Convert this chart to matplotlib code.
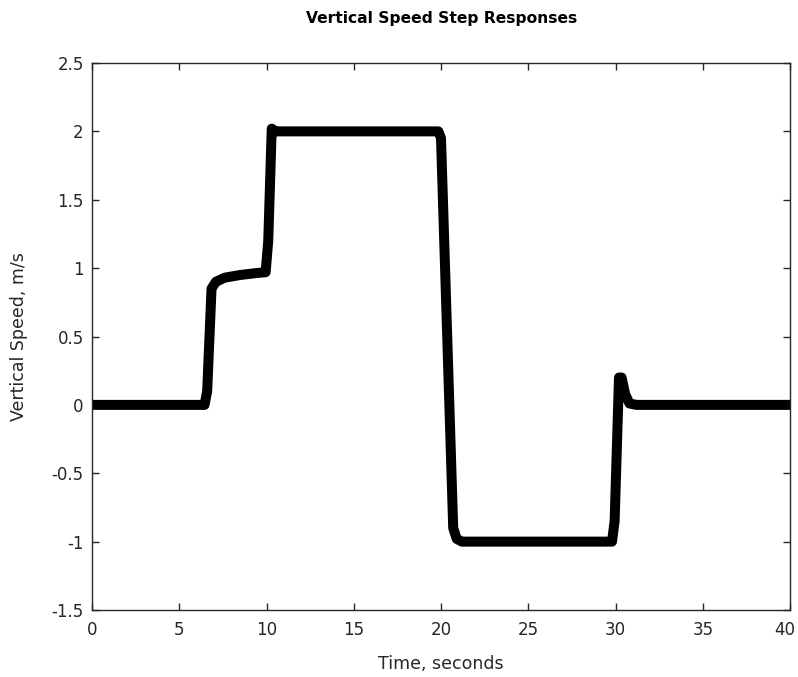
import matplotlib
matplotlib.use("Agg")
import matplotlib.pyplot as plt
import matplotlib.transforms as mtransforms

# step response trace
time_s = [0, 6.45, 6.6, 6.85, 7.1, 7.6, 8.5, 9.5, 9.95, 10.1, 10.3, 10.5, 11.0,
          19.85, 20.0, 20.7, 20.9, 21.2, 29.8, 29.95, 30.2, 30.35, 30.55, 30.8, 31.2, 40]
speed = [0, 0, 0.1, 0.85, 0.9, 0.93, 0.95, 0.965, 0.97, 1.2, 2.02, 2.0, 2.0,
         2.0, 1.95, -0.9, -0.98, -1.0, -1.0, -0.85, 0.2, 0.2, 0.08, 0.01, 0, 0]

xticks = [0, 5, 10, 15, 20, 25, 30, 35, 40]
yticks = [-1.5, -1, -0.5, 0, 0.5, 1, 1.5, 2, 2.5]
ytick_labels = ["-1.5", "-1", "-0.5", "0", "0.5", "1", "1.5", "2", "2.5"]

plt.rcParams["font.family"] = ["DejaVu Sans"]
txt = "#262626"

fig = plt.figure(figsize=(7.98, 6.77), dpi=100)
ax = fig.add_axes([92 / 798, 67 / 677, 698 / 798, 547 / 677])

ax.plot(time_s, speed, color="black", linewidth=7.2,
        solid_capstyle="round", solid_joinstyle="round")

ax.set_xlim(0, 40)
ax.set_ylim(-1.5, 2.5)
ax.set_xticks(xticks)
ax.set_yticks(yticks)
ax.set_yticklabels(ytick_labels)
ax.tick_params(direction="in", length=5, width=1, top=True, right=True,
               labelsize=12, colors=txt)
ax.tick_params(axis="x", pad=8)
ax.tick_params(axis="y", pad=6)
for s in ax.spines.values():
    s.set_color(txt)
    s.set_linewidth(1)

# nudge the last x tick label so it stays inside the figure
last = ax.get_xticklabels()[-1]
last.set_transform(last.get_transform()
                   + mtransforms.ScaledTranslation(-0.05, 0, fig.dpi_scale_trans))

ax.set_xlabel("Time, seconds", fontsize=12.5, color=txt)
ax.xaxis.set_label_coords(0.5, -0.082)
ax.set_ylabel("Vertical Speed, m/s", fontsize=12.5, color=txt)
ax.yaxis.set_label_coords(-0.092, 0.5)
fig.text(442 / 798, 1 - 18 / 677, "Vertical Speed Step Responses",
         fontsize=11.2, fontweight="bold", ha="center", va="center")

fig.savefig("out.png", dpi=100)
